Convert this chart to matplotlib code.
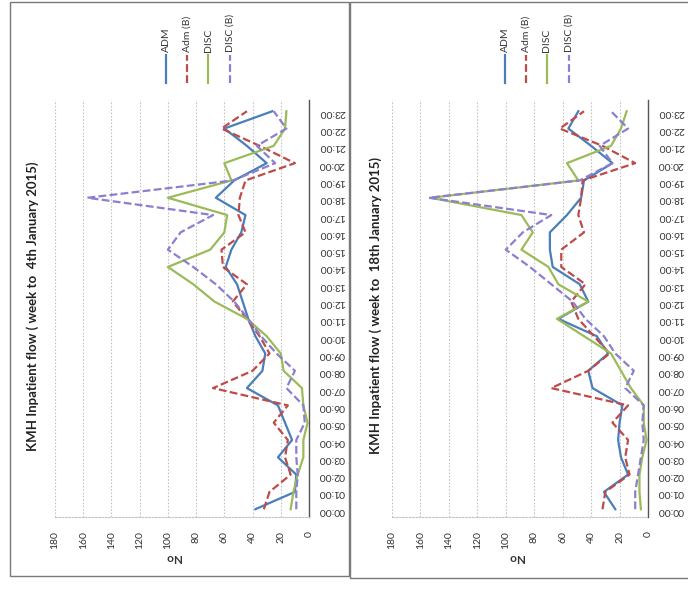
import matplotlib
matplotlib.use("Agg")
import matplotlib.pyplot as plt
from matplotlib.lines import Line2D
from matplotlib.patches import Rectangle

plt.rcParams['font.family'] = ['Lato', 'DejaVu Sans']

hours = ['00:00', '01:00', '02:00', '03:00', '04:00', '05:00', '06:00', '07:00',
         '08:00', '09:00', '10:00', '11:00', '12:00', '13:00', '14:00', '15:00',
         '16:00', '17:00', '18:00', '19:00', '20:00', '21:00', '22:00', '23:00']
value_ticks = [0, 20, 40, 60, 80, 100, 120, 140, 160, 180]
series_names = ['ADM', 'Adm (B)', 'DISC', 'DISC (B)']

# week to 4th January 2015
adm_1 = [38, 10, 9, 22, 12, 17, 22, 44, 33, 31, 38, 43, 47, 51, 59, 55, 48, 45, 66, 53, 30, 44, 60, 26]
admb_1 = [32, 28, 13, 17, 15, 25, 15, 68, 40, 28, 35, 44, 54, 44, 61, 62, 45, 50, 49, 45, 10, 35, 62, 44]
disc_1 = [13, 11, 8, 4, 4, 1, 4, 5, 18, 20, 30, 44, 67, 82, 100, 70, 60, 58, 100, 55, 60, 25, 17, 16]
discb_1 = [9, 9, 8, 9, 9, 3, 4, 16, 10, 23, 34, 43, 53, 66, 82, 100, 91, 68, 157, 54, 24, 37, 16, 25]

# week to 18th January 2015
adm_2 = [23, 31, 14, 19, 21, 20, 18, 39, 42, 28, 36, 63, 42, 48, 67, 69, 69, 57, 47, 45, 25, 40, 56, 49]
admb_2 = [32, 30, 13, 16, 14, 25, 14, 68, 42, 27, 38, 49, 54, 44, 61, 61, 45, 49, 47, 46, 9, 32, 62, 45]
disc_2 = [5, 6, 6, 4, 1, 3, 3, 12, 19, 26, 45, 64, 42, 63, 70, 89, 81, 89, 153, 49, 57, 26, 19, 15]
discb_2 = [9, 9, 7, 5, 3, 4, 3, 16, 10, 23, 31, 44, 53, 68, 83, 100, 88, 68, 154, 48, 25, 34, 14, 26]

titles = ['KMH Inpatient flow ( week to  4th January 2015)',
          'KMH Inpatient flow ( week to  18th January 2015)']

colors = ['#4A7EBB', '#BE4B48', '#9BBB59', '#8B7FD0']
styles = ['-', (0, (3.5, 1.5)), '-', (0, (3.5, 1.5))]

W, H = 688, 589
fig = plt.figure(figsize=(W / 100, H / 100), dpi=100)
fig.patch.set_facecolor('white')

def fx(px):
    return px / W

def fy(py):
    return 1 - py / H

# panel borders
fig.add_artist(Rectangle((fx(10), fy(576)), fx(339), (576 - 2) / H, transform=fig.transFigure,
                         fill=False, edgecolor='#7a7a7a', lw=1.0))
fig.add_artist(Rectangle((fx(350), fy(578)), fx(340), (578 - 2) / H, transform=fig.transFigure,
                         fill=False, edgecolor='#7a7a7a', lw=1.0))

panels = [
    dict(data=[adm_1, admb_1, disc_1, discb_1], left=55, right=309, title_x=33, leg_x=[166, 187, 208, 230], no_x=173),
    dict(data=[adm_2, admb_2, disc_2, discb_2], left=392, right=648, title_x=376, leg_x=[505, 526, 547, 569], no_x=516),
]

hour_pos = list(range(len(hours)))
top_px, bot_px = 100, 517

for i, p in enumerate(panels):
    ax = fig.add_axes([fx(p['left']), fy(bot_px), fx(p['right'] - p['left']), (bot_px - top_px) / H])
    for vals, c, ls in zip(p['data'], colors, styles):
        ax.plot(vals, hour_pos, color=c, lw=1.6, linestyle=ls)
    ax.set_xlim(180, 0)
    ax.set_ylim(-0.45, 23.65)
    ax.set_xticks(value_ticks)
    ax.set_xticklabels([str(v) for v in value_ticks], rotation=90, fontsize=7.5, color='#333333')
    ax.set_yticks(hour_pos)
    ax.yaxis.tick_right()
    ax.set_yticklabels(hours, rotation=180, fontsize=7.5, color='#333333')
    ax.tick_params(axis='both', length=0)
    ax.tick_params(axis='x', pad=10)
    ax.tick_params(axis='y', pad=7)
    ax.grid(axis='x', color='#c4c4c4', lw=0.8, linestyle=(0, (1.5, 1.5)))
    ax.set_axisbelow(True)
    for s in ['top', 'left']:
        ax.spines[s].set_visible(False)
    ax.spines['right'].set_color('#555555')
    ax.spines['right'].set_linewidth(1.0)
    ax.spines['bottom'].set_color('#c4c4c4')
    ax.spines['bottom'].set_linestyle((0, (1.5, 1.5)))
    ax.spines['bottom'].set_linewidth(0.8)
    ax.patch.set_alpha(0)

    fig.text(fx(p['no_x']), fy(557), 'No', rotation=180, ha='center', va='center',
             fontsize=8.5, fontweight='bold', color='#333333')
    fig.text(fx(p['title_x']), fy(306), titles[i], rotation=90, ha='center', va='center',
             fontsize=9.5, fontweight='bold', color='#222222')
    for name, c, ls, lx in zip(series_names, colors, styles, p['leg_x']):
        fig.add_artist(Line2D([fx(lx), fx(lx)], [fy(83), fy(55)], transform=fig.transFigure,
                              color=c, lw=1.6, linestyle=ls))
        fig.text(fx(lx), fy(52), name, rotation=90, ha='center', va='bottom',
                 fontsize=7.5, color='#333333')

fig.savefig('out.png', dpi=100, facecolor='white')
